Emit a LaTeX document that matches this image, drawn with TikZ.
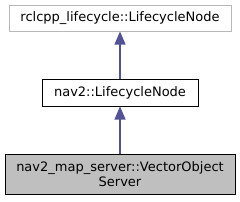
\documentclass[tikz,border=0pt]{standalone}
\usepackage{fontspec}
\setmainfont{DejaVu Sans}
\usetikzlibrary{arrows.meta,positioning}

\definecolor{edgeblue}{HTML}{191970}

\begin{document}
\begin{tikzpicture}[
  x=1pt, y=-1pt,
  font=\fontsize{13}{15}\selectfont,
  cls/.style={draw, inner sep=0pt, align=center, line width=1pt},
  ext/.style={cls, draw=black!28},
  cur/.style={cls, fill=black!25},
  inh/.style={-{Triangle[length=13pt, width=11pt]}, draw=edgeblue!75, fill=edgeblue,
              line width=1.3pt},
]
\useasboundingbox (0,0) rectangle (240,201);

% ---------- base classes ----------
\node[ext, minimum width=222pt, minimum height=26pt] (lcnode) at (120,18) {rclcpp\_lifecycle::LifecycleNode};
\node[cls, minimum width=156pt, minimum height=27pt] (navnode) at (120,92.5) {nav2::LifecycleNode};

% ---------- this class ----------
\node[cur, minimum width=230pt, minimum height=40pt] (voserver) at (120,174) {nav2\_map\_server::VectorObject\\Server};

\draw[inh] (navnode) -- (lcnode);
\draw[inh] (voserver) -- (navnode);

\end{tikzpicture}
\end{document}
